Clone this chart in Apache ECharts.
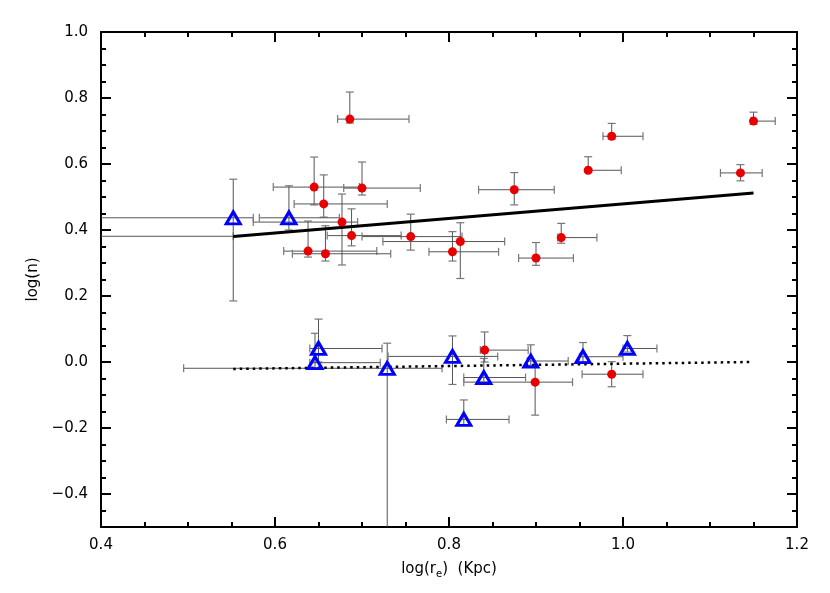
<!DOCTYPE html>
<html>
<head>
<meta charset="utf-8">
<script src="https://cdn.jsdelivr.net/npm/echarts@6/dist/echarts.min.js"></script>
<style>html,body{margin:0;padding:0;background:#fff}#c{width:830px;height:593px}</style>
</head>
<body>
<div id="c"></div>
<script>
// Red circles: x, y, and error ranges
const redX    = [0.686,0.645,0.700,0.656,0.677,0.688,0.756,0.813,0.638,0.658,0.804,0.900,0.929,0.875,0.960,0.987,1.135,1.150,0.841,0.899,0.987,0.330];
const redY    = [0.736,0.530,0.527,0.479,0.424,0.383,0.380,0.365,0.336,0.328,0.334,0.315,0.377,0.522,0.581,0.684,0.573,0.730,0.036,-0.061,-0.037,0.381];
const redXLo  = [0.672,0.598,0.679,0.622,0.575,0.660,0.700,0.724,0.610,0.620,0.777,0.880,0.925,0.834,0.958,0.977,1.112,1.147,0.836,0.817,0.953,0.200];
const redXHi  = [0.754,0.697,0.767,0.729,0.695,0.745,0.815,0.864,0.717,0.733,0.857,0.943,0.970,0.921,0.998,1.023,1.160,1.175,0.891,0.942,1.023,0.552];
const redYLo  = [0.724,0.476,0.506,0.439,0.294,0.352,0.339,0.253,0.318,0.306,0.306,0.293,0.360,0.476,0.575,0.675,0.549,0.721,0.000,-0.161,-0.075,0.381];
const redYHi  = [0.818,0.621,0.606,0.567,0.509,0.464,0.448,0.422,0.427,0.413,0.395,0.362,0.420,0.574,0.622,0.723,0.598,0.757,0.091,-0.010,0.001,0.381];

// Blue open triangles
const blueX   = [0.552,0.616,0.650,0.646,0.729,0.804,0.840,0.817,0.894,0.954,1.005];
const blueY   = [0.437,0.437,0.041,-0.002,-0.019,0.017,-0.047,-0.174,0.003,0.016,0.041];
const blueXLo = [0.300,0.582,0.640,0.640,0.495,0.730,0.817,0.797,0.890,0.950,1.000];
const blueXHi = [0.575,0.674,0.723,0.721,0.792,0.856,0.888,0.869,0.937,1.000,1.039];
const blueYLo = [0.185,0.400,0.000,-0.020,-0.800,-0.068,-0.060,-0.190,-0.010,0.000,0.030];
const blueYHi = [0.554,0.534,0.130,0.087,0.057,0.079,0.011,-0.115,0.052,0.059,0.080];

// Fits
const fitSolidX  = [0.552, 1.150];
const fitSolidY  = [0.380, 0.512];
const fitDotX    = [0.552, 1.147];
const fitDotY    = [-0.021, 0.000];

const xTicks = [0.4, 0.6, 0.8, 1.0, 1.2];
const yTicks = [-0.4, -0.2, 0.0, 0.2, 0.4, 0.6, 0.8, 1.0];
const yMin = -0.5, yMax = 1.0;

const FONT = 'DejaVu Sans';
const FS = 15;

function errRender(xs, ys, xlo, xhi, ylo, yhi) {
  return function (params, api) {
    const i = params.dataIndex;
    const l = api.coord([xlo[i], ys[i]]);
    const r = api.coord([xhi[i], ys[i]]);
    const t = api.coord([xs[i], yhi[i]]);
    const b = api.coord([xs[i], ylo[i]]);
    const cap = 4;
    const st = { stroke: '#555', lineWidth: 1 };
    const st2 = { stroke: '#777', lineWidth: 1.2 };
    const ch = [];
    if (Math.abs(r[0] - l[0]) > 0.5) {
      ch.push({ type: 'line', shape: { x1: l[0], y1: l[1], x2: r[0], y2: r[1] }, style: st });
      ch.push({ type: 'line', shape: { x1: l[0], y1: l[1] - cap, x2: l[0], y2: l[1] + cap }, style: st2 });
      ch.push({ type: 'line', shape: { x1: r[0], y1: r[1] - cap, x2: r[0], y2: r[1] + cap }, style: st2 });
    }
    if (Math.abs(t[1] - b[1]) > 0.5) {
      ch.push({ type: 'line', shape: { x1: t[0], y1: t[1], x2: b[0], y2: b[1] }, style: st });
      ch.push({ type: 'line', shape: { x1: t[0] - cap, y1: t[1], x2: t[0] + cap, y2: t[1] }, style: st2 });
      ch.push({ type: 'line', shape: { x1: b[0] - cap, y1: b[1], x2: b[0] + cap, y2: b[1] }, style: st2 });
    }
    return { type: 'group', children: ch };
  };
}

const lineBlack = { color: '#000', width: 2 };
function xAxisDef(pos, labels) {
  return {
    type: 'value', position: pos, min: xTicks[0], max: xTicks[xTicks.length - 1], interval: 0.2,
    axisLine: { show: true, onZero: false, lineStyle: lineBlack },
    axisTick: { show: true, inside: true, length: 10, lineStyle: lineBlack },
    minorTick: { show: true, splitNumber: 4, length: 5, lineStyle: lineBlack },
    splitLine: { show: false }, minorSplitLine: { show: false },
    axisLabel: labels ? { margin: 11, color: '#000', fontFamily: FONT, fontSize: FS, formatter: v => v.toFixed(1) } : { show: false }
  };
}
function yMinorAxis(pos) {
  return {
    type: 'value', position: pos, min: yMin, max: yMax, interval: 0.05,
    axisLine: { show: true, onZero: false, lineStyle: lineBlack },
    axisTick: { show: true, inside: true, length: 5, lineStyle: lineBlack },
    axisLabel: { show: false }, splitLine: { show: false }
  };
}
function yMajorAxis(pos, labels) {
  const fmt = v => (Math.abs(v) < 1e-9 ? '0.0' : v.toFixed(1).replace('-', '\u2212'));
  return {
    type: 'value', position: pos, min: yMin, max: yMax,
    axisLine: { show: false, onZero: false },
    axisTick: { show: true, inside: true, length: 10, lineStyle: lineBlack, customValues: yTicks },
    axisLabel: labels ? { margin: 13, color: '#000', fontFamily: FONT, fontSize: FS, customValues: yTicks, formatter: fmt } : { show: false, customValues: yTicks },
    splitLine: { show: false }
  };
}

const chart = echarts.init(document.getElementById('c'));
chart.setOption({
  animation: false,
  backgroundColor: '#fff',
  grid: { left: 101, top: 32, right: 33, bottom: 66, containLabel: false },
  xAxis: [
    Object.assign(xAxisDef('bottom', true), {
      name: '{a|log(r}{s|e}{a|)  (Kpc)}', nameLocation: 'middle', nameGap: 33,
      nameTextStyle: { rich: { a: { fontFamily: FONT, fontSize: FS, color: '#000' }, s: { fontFamily: FONT, fontSize: 10, color: '#000', padding: [9, 0, 0, 0] } } }
    }),
    xAxisDef('top', false)
  ],
  yAxis: [
    yMinorAxis('left'),
    Object.assign(yMajorAxis('left', true), {
      name: 'log(n)', nameLocation: 'middle', nameGap: 60,
      nameTextStyle: { fontFamily: FONT, fontSize: FS, color: '#000' }
    }),
    yMinorAxis('right'),
    yMajorAxis('right', false)
  ],
  series: [
    {
      type: 'custom', data: redX.map((x, i) => [x, redY[i]]), encode: { x: 0, y: 1 },
      renderItem: errRender(redX, redY, redXLo, redXHi, redYLo, redYHi), z: 2, clip: true, silent: true
    },
    {
      type: 'custom', data: blueX.map((x, i) => [x, blueY[i]]), encode: { x: 0, y: 1 },
      renderItem: errRender(blueX, blueY, blueXLo, blueXHi, blueYLo, blueYHi), z: 2, clip: true, silent: true
    },
    {
      type: 'line', data: fitSolidX.map((x, i) => [x, fitSolidY[i]]),
      symbol: 'none', lineStyle: { color: '#000', width: 3 }, z: 3, silent: true
    },
    {
      type: 'line', data: fitDotX.map((x, i) => [x, fitDotY[i]]),
      symbol: 'none', lineStyle: { color: '#000', width: 2.5, type: [2.5, 4] }, z: 3, silent: true
    },
    {
      type: 'scatter', data: redX.map((x, i) => [x, redY[i]]),
      symbol: 'circle', symbolSize: 9, itemStyle: { color: '#e80000', opacity: 1 }, z: 4, clip: true
    },
    {
      type: 'scatter', data: blueX.map((x, i) => [x, blueY[i]]),
      symbol: 'triangle', symbolSize: [14, 12],
      itemStyle: { color: 'rgba(255,255,255,0)', borderColor: '#0000ff', borderWidth: 3, opacity: 1 }, z: 4, clip: true
    }
  ]
});
</script>
</body>
</html>
